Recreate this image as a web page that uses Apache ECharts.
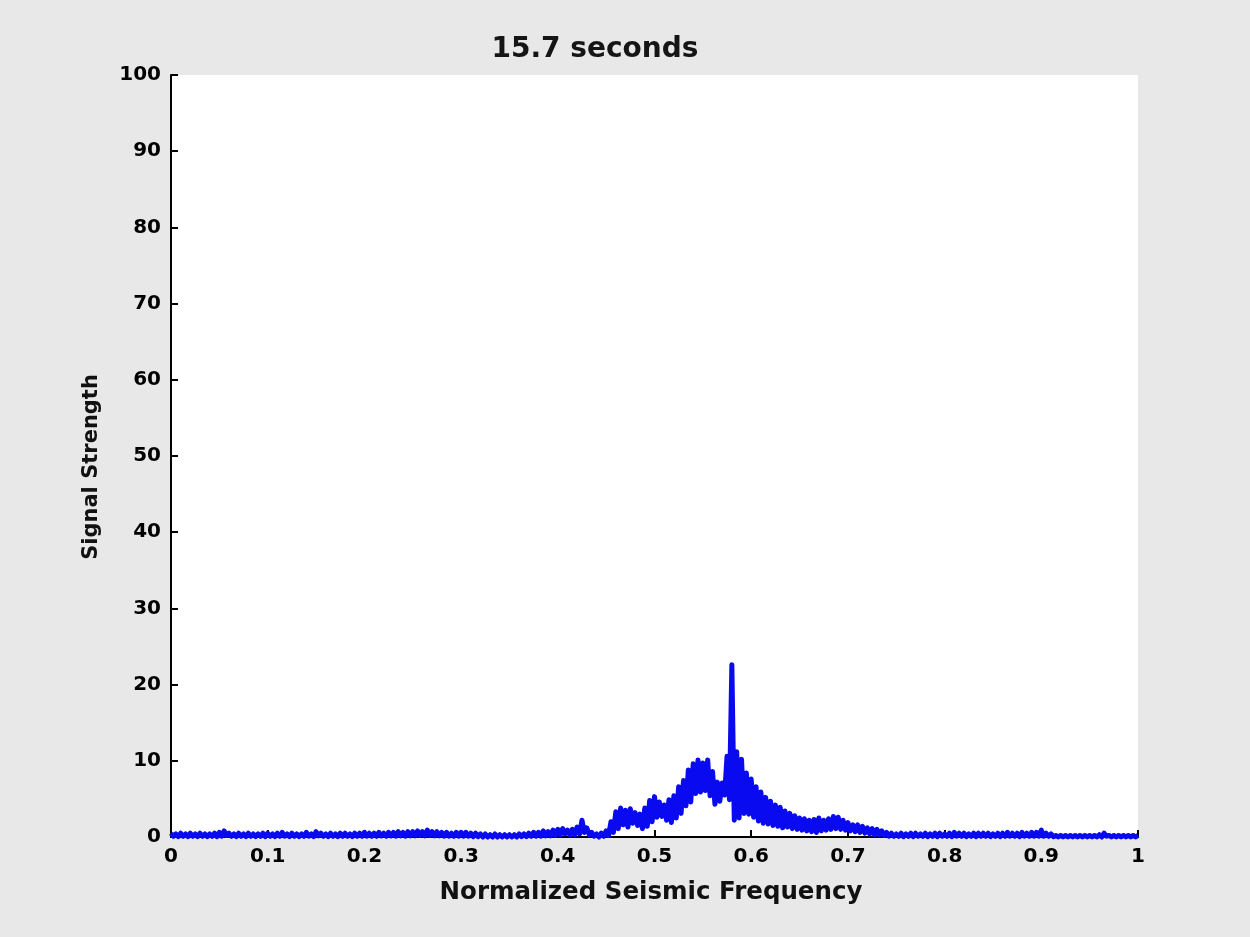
<!DOCTYPE html>
<html><head><meta charset="utf-8">
<script src="https://cdn.jsdelivr.net/npm/echarts@6/dist/echarts.min.js"></script>
<style>html,body{margin:0;padding:0;background:#e8e8e8}#c{width:1250px;height:937px}</style>
</head><body><div id="c"></div>
<script>
const titleText = "15.7 seconds";
const xName = "Normalized Seismic Frequency";
const yName = "Signal Strength";
const step = 0.005;
// upper envelope of the noisy spectrum, one value per 0.005
const upper = [
0.5,0.4,0.5,0.4,0.5,0.4,0.5,0.4,0.4,0.5,
0.6,0.8,0.5,0.4,0.5,0.4,0.5,0.4,0.4,0.5,
0.5,0.4,0.5,0.6,0.4,0.5,0.4,0.4,0.6,0.4,
0.7,0.5,0.4,0.5,0.4,0.5,0.5,0.4,0.5,0.5,
0.6,0.5,0.5,0.6,0.5,0.6,0.6,0.7,0.6,0.7,
0.7,0.8,0.7,0.9,0.7,0.7,0.6,0.6,0.5,0.6,
0.6,0.6,0.5,0.5,0.4,0.4,0.3,0.4,0.3,0.3,
0.3,0.3,0.4,0.4,0.5,0.6,0.6,0.8,0.7,0.9,
1.0,1.1,0.9,1.0,1.3,2.2,1.2,0.6,0.4,0.5,
0.8,2.0,3.3,3.8,3.5,3.7,3.2,3.0,3.8,4.8,
5.3,4.6,4.2,4.9,5.4,6.6,7.4,8.8,9.6,10.1,
9.7,10.1,8.6,7.2,7.1,10.6,22.6,11.2,10.2,8.4,
7.6,6.6,5.9,5.2,4.7,4.2,3.9,3.4,3.1,2.8,
2.5,2.4,2.2,2.3,2.5,2.2,2.4,2.7,2.6,2.2,
1.9,1.6,1.6,1.4,1.2,1.1,1.0,0.8,0.6,0.5,
0.4,0.5,0.4,0.5,0.5,0.4,0.5,0.4,0.5,0.5,
0.4,0.5,0.6,0.5,0.5,0.4,0.5,0.5,0.5,0.5,
0.4,0.5,0.5,0.6,0.5,0.5,0.6,0.5,0.6,0.6,
0.9,0.5,0.4,0.2,0.2,0.2,0.2,0.2,0.2,0.2,
0.2,0.2,0.3,0.5,0.2,0.2,0.2,0.2,0.2,0.2,
0.2
];
// lower envelope, same grid (offset by half a step)
const lower = [
0.1,0.05,0.1,0.05,0.1,0.05,0.1,0.05,0.1,0.05,
0.1,0.2,0.1,0.05,0.1,0.05,0.1,0.05,0.1,0.05,
0.1,0.05,0.1,0.1,0.05,0.1,0.05,0.1,0.1,0.05,
0.15,0.1,0.05,0.1,0.05,0.1,0.1,0.05,0.1,0.1,
0.1,0.1,0.1,0.15,0.1,0.15,0.1,0.15,0.1,0.15,
0.15,0.2,0.15,0.2,0.15,0.15,0.1,0.1,0.1,0.1,
0.1,0.1,0.05,0.05,0.0,0.0,0.0,0.0,0.0,0.0,
0.0,0.0,0.05,0.05,0.1,0.1,0.1,0.15,0.15,0.2,
0.3,0.4,0.3,0.3,0.4,0.6,0.3,0.1,0.0,0.1,
0.2,0.6,1.1,1.6,1.3,1.8,1.5,1.1,1.4,2.0,
2.6,2.7,2.2,1.9,2.5,3.1,4.1,4.6,5.7,5.9,
6.1,5.4,4.3,4.7,5.5,4.9,2.2,2.5,3.1,3.0,
2.6,2.1,1.8,1.7,1.5,1.4,1.2,1.3,1.1,1.0,
0.9,0.8,0.7,0.6,0.8,0.9,1.0,1.1,1.0,0.9,
0.8,0.7,0.6,0.5,0.4,0.3,0.3,0.2,0.1,0.1,
0.1,0.05,0.1,0.05,0.1,0.1,0.05,0.1,0.05,0.1,
0.1,0.05,0.1,0.1,0.05,0.1,0.05,0.1,0.1,0.05,
0.1,0.05,0.1,0.1,0.1,0.05,0.1,0.1,0.1,0.1,
0.1,0.1,0.05,0.0,0.0,0.0,0.0,0.0,0.0,0.0,
0.0,0.0,0.0,0.1,0.0,0.0,0.0,0.0,0.0,0.0,
0.0
];
const points = [];
upper.forEach((v, i) => {
  points.push([+(i * step).toFixed(4), v]);
  if (i < upper.length - 1) points.push([+(i * step + step / 2).toFixed(4), lower[i]]);
});
const FONT = 'DejaVu Sans';
const chart = echarts.init(document.getElementById('c'), null, {renderer: 'canvas'});
chart.setOption({
  backgroundColor: '#e8e8e8',
  animation: false,
  title: {text: titleText, left: 590, top: 31, textAlign: 'center',
    textStyle: {fontFamily: FONT, fontWeight: 'bold', fontSize: 28, color: '#151515'}},
  grid: {left: 171, right: 112, top: 75, bottom: 100, show: true, backgroundColor: '#ffffff', borderWidth: 0},
  xAxis: {type: 'value', min: 0, max: 1, interval: 0.1,
    axisLine: {lineStyle: {color: '#000', width: 2}},
    axisTick: {inside: true, length: 7, lineStyle: {color: '#000', width: 2}},
    axisLabel: {fontFamily: FONT, fontWeight: 'bold', fontSize: 20, color: '#000', margin: 10},
    splitLine: {show: false}},
  yAxis: {type: 'value', min: 0, max: 100, interval: 10,
    axisLine: {show: true, lineStyle: {color: '#000', width: 2}},
    axisTick: {show: true, inside: true, length: 7, lineStyle: {color: '#000', width: 2}},
    axisLabel: {fontFamily: FONT, fontWeight: 'bold', fontSize: 20, color: '#000', margin: 10},
    splitLine: {show: false}},
  graphic: [
    {type: 'text', x: 92, y: 467, rotation: Math.PI / 2,
      style: {text: yName, fontFamily: FONT, fontWeight: 'bold', fontSize: 21, fill: '#111',
        textAlign: 'center', textVerticalAlign: 'middle'}},
    {type: 'text', x: 651, y: 893,
      style: {text: xName, fontFamily: FONT, fontWeight: 'bold', fontSize: 24.5, fill: '#111',
        textAlign: 'center', textVerticalAlign: 'middle'}}
  ],
  series: [{type: 'line', data: points, symbol: 'none', clip: false,
    lineStyle: {color: '#0a0af0', width: 5, join: 'round'}}]
});
</script></body></html>
